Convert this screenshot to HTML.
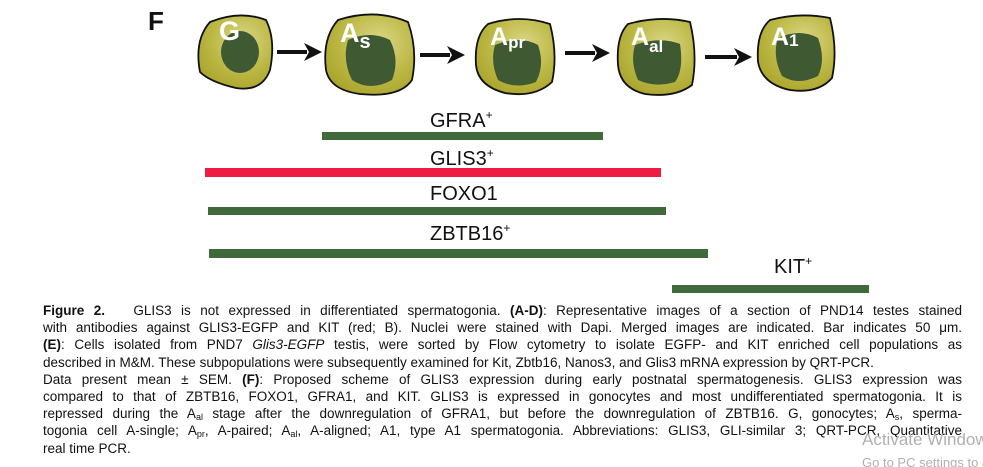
<!DOCTYPE html>
<html><head><meta charset="utf-8"><style>
html,body{margin:0;padding:0;background:#fff;width:983px;height:467px;overflow:hidden;position:relative;font-family:"Liberation Sans",sans-serif}
svg{position:absolute;left:0;top:0}
.cap{position:absolute;left:43px;width:919px;top:302px;font-size:13.5px;line-height:17.2px;color:#111}
.cap div{text-align:justify;text-align-last:justify;white-space:nowrap}
.cap div.last{text-align-last:left}
sub{font-size:9px;vertical-align:-2px;line-height:0}
.wm{position:absolute;left:862px;width:121px;overflow:hidden;color:#b0b0b0;font-size:17px;white-space:nowrap}
</style></head><body>
<svg width="983" height="300" viewBox="0 0 983 300">
<defs>
<radialGradient id="g" cx="0.6" cy="0.35" r="0.7">
<stop offset="0" stop-color="#dcd889"/><stop offset="0.6" stop-color="#bcb845"/><stop offset="1" stop-color="#a9a52c"/>
</radialGradient>
</defs>
<text x="148" y="30" font-size="26" font-weight="bold" fill="#111">F</text>
<path d="M210,22 Q240,10 266,20 Q276,40 270,70 Q262,92 236,88 Q210,82 200,72 Q194,40 210,22Z" fill="url(#g)" stroke="#111" stroke-width="1.8"/>
<ellipse cx="240" cy="52" rx="19" ry="21" fill="#3f5a32"/>
<text x="219" y="40" font-size="27" font-weight="bold" fill="#fff">G</text>
<path d="M338,20 Q375,8 408,22 Q418,50 412,80 Q400,98 360,94 Q330,90 326,70 Q322,38 338,20Z" fill="url(#g)" stroke="#111" stroke-width="1.8"/>
<path d="M348,40 Q370,30 390,40 Q400,60 392,80 Q370,92 352,80 Q342,60 348,40Z" fill="#3f5a32"/>
<text x="340" y="42" font-size="27" font-weight="bold" fill="#fff">A<tspan font-size="20" dy="6">s</tspan></text>
<path d="M488,24 Q520,14 550,24 Q558,55 552,82 Q535,98 505,93 Q478,86 476,65 Q474,36 488,24Z" fill="url(#g)" stroke="#111" stroke-width="1.8"/>
<path d="M495,45 Q520,35 538,45 Q545,65 536,82 Q515,90 498,80 Q490,62 495,45Z" fill="#3f5a32"/>
<text x="490" y="45" font-size="25" font-weight="bold" fill="#fff">A<tspan font-size="17" dy="3">pr</tspan></text>
<path d="M628,24 Q660,15 690,22 Q698,55 692,85 Q675,98 645,94 Q620,88 618,65 Q616,36 628,24Z" fill="url(#g)" stroke="#111" stroke-width="1.8"/>
<path d="M635,45 Q660,36 680,44 Q684,70 675,82 Q655,88 638,80 Q630,62 635,45Z" fill="#3f5a32"/>
<text x="631" y="45" font-size="25" font-weight="bold" fill="#fff">A<tspan font-size="17" dy="7">al</tspan></text>
<path d="M770,20 Q800,12 830,18 Q838,50 832,78 Q818,94 790,90 Q762,84 758,62 Q756,32 770,20Z" fill="url(#g)" stroke="#111" stroke-width="1.8"/>
<path d="M778,38 Q800,28 818,38 Q826,60 818,76 Q798,86 782,76 Q772,56 778,38Z" fill="#3f5a32"/>
<text x="771" y="45" font-size="25" font-weight="bold" fill="#fff">A<tspan font-size="17" dy="1">1</tspan></text>
<g fill="#111">
<rect x="277" y="50" width="30" height="4"/><polygon points="304,43 322,52 304,61 309,52"/>
<rect x="420" y="53" width="30" height="4"/><polygon points="447,46 465,55 447,64 452,55"/>
<rect x="565" y="51" width="30" height="4"/><polygon points="592,44 610,53 592,62 597,53"/>
<rect x="705" y="55" width="32" height="4"/><polygon points="734,48 752,57 734,66 739,57"/>
</g>
<rect x="322" y="132" width="281" height="8" fill="#406a3c"/>
<rect x="205" y="168" width="456" height="9" fill="#ee1c42"/>
<rect x="208" y="207" width="458" height="8" fill="#406a3c"/>
<rect x="209" y="249" width="499" height="9" fill="#406a3c"/>
<rect x="672" y="285" width="197" height="8" fill="#406a3c"/>
<g font-size="20" fill="#111">
<text x="430" y="127">GFRA<tspan font-size="12" dy="-8">+</tspan></text>
<text x="430" y="165">GLIS3<tspan font-size="12" dy="-8">+</tspan></text>
<text x="430" y="200">FOXO1</text>
<text x="430" y="240">ZBTB16<tspan font-size="12" dy="-8">+</tspan></text>
<text x="774" y="273">KIT<tspan font-size="12" dy="-8">+</tspan></text>
</g>
</svg>
<div class="cap">
<div><b>Figure 2.</b>&nbsp;&nbsp; GLIS3 is not expressed in differentiated spermatogonia. <b>(A-D)</b>: Representative images of a section of PND14 testes stained</div>
<div>with antibodies against GLIS3-EGFP and KIT (red; B). Nuclei were stained with Dapi. Merged images are indicated. Bar indicates 50 μm.</div>
<div><b>(E)</b>: Cells isolated from PND7 <i>Glis3-EGFP</i> testis, were sorted by Flow cytometry to isolate EGFP- and KIT enriched cell populations as</div>
<div class="last">described in M&amp;M. These subpopulations were subsequently examined for Kit, Zbtb16, Nanos3, and Glis3 mRNA expression by QRT-PCR.</div>
<div>Data present mean ± SEM. <b>(F)</b>: Proposed scheme of GLIS3 expression during early postnatal spermatogenesis. GLIS3 expression was</div>
<div>compared to that of ZBTB16, FOXO1, GFRA1, and KIT. GLIS3 is expressed in gonocytes and most undifferentiated spermatogonia. It is</div>
<div>repressed during the A<sub>al</sub> stage after the downregulation of GFRA1, but before the downregulation of ZBTB16. G, gonocytes; A<sub>s</sub>, sperma-</div>
<div>togonia cell A-single; A<sub>pr</sub>, A-paired; A<sub>al</sub>, A-aligned; A1, type A1 spermatogonia. Abbreviations: GLIS3, GLI-similar 3; QRT-PCR, Quantitative</div>
<div class="last">real time PCR.</div>
</div>
<div class="wm" style="top:430px">Activate Windows</div>
<div class="wm" style="top:455px;font-size:13px">Go to PC settings to activate Windows.</div>
</body></html>
